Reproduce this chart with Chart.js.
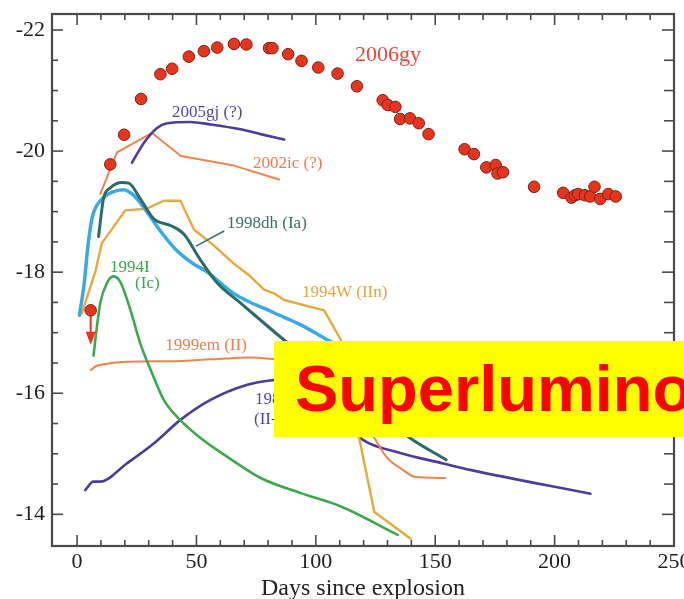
<!DOCTYPE html>
<html><head><meta charset="utf-8">
<script src="https://cdn.jsdelivr.net/npm/chart.js@4.4.1/dist/chart.umd.min.js"></script>
<style>
html,body{margin:0;padding:0;background:#fff;}
#wrap{position:relative;width:684px;height:599px;overflow:hidden;}
#c{position:absolute;left:0;top:0;}
#banner{position:absolute;left:274px;top:341px;width:410px;height:96px;background:#ffff00;overflow:hidden;white-space:nowrap;}
#banner span{display:block;padding-left:21px;font:bold 65px "Liberation Sans",Arial,sans-serif;line-height:96px;color:#ff0000;}
</style></head><body>
<div id="wrap"><canvas id="c" width="684" height="599"></canvas><div id="banner"><span>Superlumino</span></div></div>
<script>
// ---------- data ----------
const xTickValues = [0, 50, 100, 150, 200, 250];
const yTickValues = [-22, -20, -18, -16, -14];

const gyDays = [13.9,19.7,26.8,34.9,39.8,46.8,53.1,58.7,65.7,70.9,80.4,81.8,88.4,94.0,101.0,109.1,117.2,128.0,130.1,133.3,135.3,139.4,143.1,147.2,162.3,166.2,171.4,175.3,176.1,178.4,191.4,203.6,207.1,208.5,209.9,212.7,214.9,216.7,219.1,222.5,225.6];
const gyMag  = [-19.78,-20.27,-20.86,-21.27,-21.36,-21.56,-21.65,-21.71,-21.77,-21.76,-21.70,-21.70,-21.60,-21.49,-21.38,-21.28,-21.07,-20.84,-20.76,-20.73,-20.53,-20.54,-20.46,-20.28,-20.03,-19.95,-19.73,-19.77,-19.63,-19.65,-19.41,-19.31,-19.23,-19.27,-19.29,-19.27,-19.25,-19.41,-19.21,-19.29,-19.25];
const gyLimitDays = [5.7];
const gyLimitMag = [-17.37];
const gyLimitArrowTo = [-16.80];

const gj2005Days = [23, 27.9, 33.5, 37.7, 47.5, 55.9, 68.5, 76.9, 86.7];
const gj2005Mag  = [-19.81, -20.13, -20.38, -20.46, -20.48, -20.44, -20.36, -20.28, -20.19];

const ic2002Days = [9.7, 16.7, 31.4, 43.5, 65.7, 84.6];
const ic2002Mag  = [-19.29, -19.98, -20.30, -19.92, -19.76, -19.53];

const dh1998Days = [9.0, 11.1, 13.9, 18.8, 21.6, 26.5, 32.1, 39.1, 44.7, 51.7, 58.7, 68.5, 86.7, 139.9, 154.6];
const dh1998Mag  = [-18.59, -19.22, -19.39, -19.48, -19.47, -19.21, -18.88, -18.77, -18.63, -18.20, -17.82, -17.49, -16.88, -15.25, -14.90];

const blueDays = [1.0, 2.9, 4.6, 6.3, 8.4, 11.3, 14.7, 19.3, 24.0, 29.0, 34.9, 41.2, 48.3, 54.6, 65.5, 82.4, 93.7, 105, 116.8];
const blueMag  = [-17.29, -17.79, -18.45, -18.90, -19.11, -19.24, -19.32, -19.36, -19.26, -19.01, -18.68, -18.38, -18.15, -18.00, -17.65, -17.33, -17.13, -16.88, -16.63];

const w1994Days = [2.0, 7.6, 10.4, 20.2, 29.3, 36.3, 43.3, 49.0, 57.0, 66.0, 72.0, 78.3, 82.5, 86.7, 103.5, 110.5, 118.2, 124.5, 139.6];
const w1994Mag  = [-17.32, -18.00, -18.48, -19.02, -19.05, -19.18, -19.18, -18.70, -18.45, -18.13, -17.95, -17.71, -17.65, -17.54, -17.37, -16.88, -15.25, -14.04, -13.60];

const i1994Days = [6.9, 8.3, 9.7, 12.5, 15.3, 18.1, 22.3, 26.5, 31.4, 36.3, 42.6, 51.7, 62.9, 76.9, 93.7, 110.5, 134.3];
const i1994Mag  = [-16.62, -17.10, -17.49, -17.82, -17.93, -17.84, -17.38, -16.82, -16.33, -15.89, -15.58, -15.26, -14.95, -14.60, -14.35, -14.13, -13.66];

const em1999Days = [5.7, 8, 11.1, 20.8, 41.9, 55.9, 72.7, 82.5, 95, 108, 117, 124.7, 129.5, 136.6, 141.4, 154.1];
const em1999Mag  = [-16.38, -16.45, -16.48, -16.52, -16.53, -16.56, -16.59, -16.56, -16.50, -16.20, -15.70, -15.25, -14.95, -14.73, -14.62, -14.60];

const a1987Days = [3.4, 6.8, 9.7, 20.8, 32.1, 43.3, 55.9, 71.3, 82.5, 90, 100, 110, 119.7, 135.7, 153.4, 165.1, 215];
const a1987Mag  = [-14.40, -14.54, -14.54, -14.84, -15.17, -15.56, -15.89, -16.14, -16.22, -16.25, -16.05, -15.60, -15.23, -15.01, -14.84, -14.73, -14.34];

// ---------- helpers ----------
const zip = (xs, ys) => xs.map((x, i) => ({x, y: ys[i]}));
const SERIF = '"Liberation Serif","Times New Roman",serif';

const curveLabels = [
  {text: '2006gy',      x: 116.4, y: -21.59, color: '#e8493a', size: 22},
  {text: '2005gj (?)',  x: 39.8,  y: -20.63, color: '#5547a8', size: 17},
  {text: '2002ic (?)',  x: 73.7,  y: -19.80, color: '#ef7d4c', size: 17},
  {text: '1998dh (Ia)', x: 62.8,  y: -18.80, color: '#35706c', size: 17},
  {text: '1994I',       x: 13.8,  y: -18.07, color: '#3aa64e', size: 17},
  {text: '(Ic)',        x: 24.3,  y: -17.82, color: '#3aa64e', size: 17},
  {text: '1994W (IIn)', x: 94.2,  y: -17.66, color: '#e0a63a', size: 17},
  {text: '1999em (II)', x: 36.9,  y: -16.78, color: '#ef7d4c', size: 17},
  {text: '1987A',       x: 74.5,  y: -15.89, color: '#5547a8', size: 17},
  {text: '(II-pec)',    x: 74.1,  y: -15.56, color: '#5547a8', size: 17}
];
const leaderLine = {x1: 49.8, y1: -18.43, x2: 61.6, y2: -18.68, color: '#35706c'};

const decorPlugin = {
  id: 'decor',
  afterDatasetsDraw(chart) {
    const {ctx, scales: {x, y}} = chart;
    ctx.save();
    // upper limit arrow
    const ax = x.getPixelForValue(gyLimitDays[0]);
    const ay0 = y.getPixelForValue(gyLimitMag[0]);
    const ay1 = y.getPixelForValue(gyLimitArrowTo[0]);
    ctx.strokeStyle = '#e8341f'; ctx.fillStyle = '#e8341f'; ctx.lineWidth = 2;
    ctx.beginPath(); ctx.moveTo(ax, ay0); ctx.lineTo(ax, ay1 - 10); ctx.stroke();
    ctx.beginPath(); ctx.moveTo(ax - 5, ay1 - 13); ctx.lineTo(ax + 5, ay1 - 13); ctx.lineTo(ax, ay1); ctx.closePath(); ctx.fill();
    ctx.beginPath(); ctx.arc(ax, ay0, 5.8, 0, Math.PI * 2);
    ctx.fillStyle = '#e8341f'; ctx.fill(); ctx.strokeStyle = '#7b2417'; ctx.lineWidth = 1; ctx.stroke();
    // leader line
    ctx.strokeStyle = leaderLine.color; ctx.lineWidth = 1.5;
    ctx.beginPath();
    ctx.moveTo(x.getPixelForValue(leaderLine.x1), y.getPixelForValue(leaderLine.y1));
    ctx.lineTo(x.getPixelForValue(leaderLine.x2), y.getPixelForValue(leaderLine.y2));
    ctx.stroke();
    // labels
    ctx.textAlign = 'left'; ctx.textBaseline = 'middle';
    curveLabels.forEach(l => {
      ctx.font = l.size + 'px ' + SERIF;
      ctx.fillStyle = l.color;
      ctx.fillText(l.text, x.getPixelForValue(l.x), y.getPixelForValue(l.y));
    });
    ctx.restore();
  },
  afterDraw(chart) {
    const {ctx, chartArea: a, scales: {x, y}} = chart;
    ctx.save();
    ctx.strokeStyle = '#4a4a4a'; ctx.lineWidth = 1.6;
    const line = (x1, y1, x2, y2) => { ctx.beginPath(); ctx.moveTo(x1, y1); ctx.lineTo(x2, y2); ctx.stroke(); };
    for (let v = 0; v <= 250; v += 10) {
      const px = x.getPixelForValue(v);
      const L = v % 50 === 0 ? 11 : 6;
      line(px, a.bottom, px, a.bottom - L);
      line(px, a.top, px, a.top + L);
    }
    for (let v = -22; v <= -14; v += 0.5) {
      const py = y.getPixelForValue(v);
      const L = v % 2 === 0 ? 11 : 6;
      line(a.left, py, a.left + L, py);
      line(a.right, py, a.right - (v % 2 === 0 ? 12 : 10), py);
    }
    ctx.lineWidth = 2.2;
    ctx.strokeRect(a.left, a.top, a.right - a.left, a.bottom - a.top);
    ctx.restore();
  }
};

const lineDs = (label, xs, ys, color, width, smooth) => ({
  label, data: zip(xs, ys), borderColor: color, backgroundColor: color,
  borderWidth: width, pointRadius: 0, showLine: true, fill: false,
  cubicInterpolationMode: smooth ? 'monotone' : 'default', tension: smooth ? 0.4 : 0,
  borderCapStyle: 'round', borderJoinStyle: 'round'
});

new Chart(document.getElementById('c'), {
  type: 'scatter',
  data: {
    datasets: [
      {label: '2006gy', data: zip(gyDays, gyMag), showLine: false, pointRadius: 5.8,
       pointBackgroundColor: '#e8341f', pointBorderColor: '#7b2417', pointBorderWidth: 1},
      lineDs('2005gj', gj2005Days, gj2005Mag, '#4d3b9e', 2.6, true),
      lineDs('2002ic', ic2002Days, ic2002Mag, '#f0834e', 2, false),
      lineDs('1998dh', dh1998Days, dh1998Mag, '#2e6b68', 3, true),
      lineDs('blue', blueDays, blueMag, '#3ba9e3', 3.5, true),
      lineDs('1994W', w1994Days, w1994Mag, '#e5aa3b', 2.4, false),
      lineDs('1994I', i1994Days, i1994Mag, '#3ea84f', 2.6, true),
      lineDs('1999em', em1999Days, em1999Mag, '#f0834e', 2, true),
      lineDs('1987A', a1987Days, a1987Mag, '#4d3b9e', 2.6, true)
    ]
  },
  options: {
    responsive: false, animation: false, events: [],
    layout: {padding: {top: 14, right: 10, left: 0, bottom: 0}},
    plugins: {legend: {display: false}, tooltip: {enabled: false}},
    scales: {
      x: {
        type: 'linear', min: -10.5, max: 250,
        grid: {display: false, drawTicks: false}, border: {display: false},
        afterBuildTicks: s => { s.ticks = xTickValues.map(v => ({value: v})); },
        afterFit: s => { s.height = 53; s.paddingLeft = 0; s.paddingRight = 0; },
        ticks: {padding: 3, color: '#222', font: {family: SERIF, size: 22}, maxRotation: 0, autoSkip: false},
        title: {display: true, text: 'Days since explosion', color: '#222', font: {family: SERIF, size: 24}, padding: {top: 0, bottom: -4}}
      },
      y: {
        type: 'linear', reverse: true, min: -22.264, max: -13.477,
        grid: {display: false, drawTicks: false}, border: {display: false},
        afterBuildTicks: s => { s.ticks = yTickValues.map(v => ({value: v})); },
        afterFit: s => { s.width = 52; s.paddingTop = 0; s.paddingBottom = 0; },
        ticks: {padding: 7, color: '#222', font: {family: SERIF, size: 22}, autoSkip: false, callback: v => String(v)}
      }
    }
  },
  plugins: [decorPlugin]
});
</script>
</body></html>
